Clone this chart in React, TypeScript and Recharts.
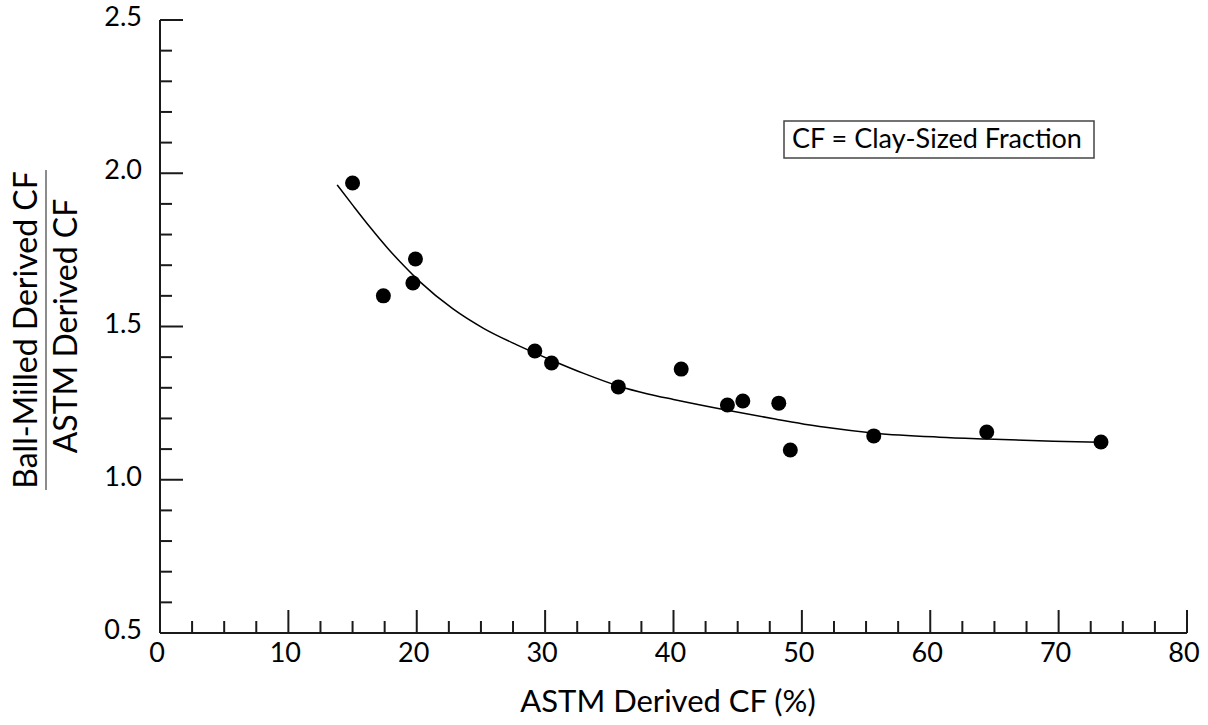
import React from 'react';
import { ComposedChart, Scatter, Line, XAxis, YAxis } from 'recharts';

// measured points: ASTM derived clay fraction (%) vs ball-milled / ASTM ratio
const astmCF = [15.0, 17.4, 19.7, 19.9, 29.2, 30.5, 35.7, 40.6, 44.2, 45.4, 48.2, 49.1, 55.6, 64.4, 73.3];
const cfRatio = [1.968, 1.6, 1.642, 1.72, 1.42, 1.381, 1.303, 1.361, 1.244, 1.257, 1.25, 1.097, 1.143, 1.156, 1.123];

// fitted curve
const fitX = [13.8, 15.1, 16.4, 17.7, 19.0, 20.3, 22.8, 25.2, 27.8, 30.5, 33.0, 35.7, 38.0, 40.0, 44.3, 47.8, 51.7, 55.7, 60.7, 64.4, 69.6, 73.2];
const fitY = [1.962, 1.891, 1.822, 1.757, 1.698, 1.644, 1.558, 1.494, 1.44, 1.39, 1.347, 1.306, 1.28, 1.262, 1.226, 1.199, 1.172, 1.152, 1.139, 1.133, 1.126, 1.122];

const xTicks = [0, 2.5, 5, 7.5, 10, 12.5, 15, 17.5, 20, 22.5, 25, 27.5, 30, 32.5, 35, 37.5, 40, 42.5, 45, 47.5, 50, 52.5, 55, 57.5, 60, 62.5, 65, 67.5, 70, 72.5, 75, 77.5, 80];
const yTicks = [0.5, 0.6, 0.7, 0.8, 0.9, 1.0, 1.1, 1.2, 1.3, 1.4, 1.5, 1.6, 1.7, 1.8, 1.9, 2.0, 2.1, 2.2, 2.3, 2.4, 2.5];

const points = astmCF.map((x, i) => ({ x, y: cfRatio[i] }));
const fit = fitX.map((x, i) => ({ x, y: fitY[i] }));

const FONT = 'Lato, "Open Sans", sans-serif';
const INK = '#1a1a1a';
const MAJOR = 23;
const MINOR = 12;

const isMajorX = (v: number) => Math.abs(v / 10 - Math.round(v / 10)) < 1e-6;
const isMajorY = (v: number) => Math.abs(v * 2 - Math.round(v * 2)) < 1e-6;

const BottomTick = (props: any) => {
  const { x, y, payload } = props;
  const major = isMajorX(payload.value);
  return (
    <g>
      <line x1={x} x2={x} y1={y} y2={y - (major ? MAJOR : MINOR)} stroke={INK} strokeWidth={2} />
      {major && (
        <text x={x - 3} y={y + 29} textAnchor="middle" fontFamily={FONT} fontSize={27} fill="#000">
          {payload.value}
        </text>
      )}
    </g>
  );
};

const TopTick = (props: any) => {
  const { x, y, payload } = props;
  const major = isMajorX(payload.value);
  return <line x1={x} x2={x} y1={y} y2={y + (major ? MAJOR : MINOR)} stroke={INK} strokeWidth={2} />;
};

const LeftTick = (props: any) => {
  const { x, y, payload } = props;
  const major = isMajorY(payload.value);
  return (
    <g>
      <line x1={x} x2={x + (major ? MAJOR : MINOR)} y1={y} y2={y} stroke={INK} strokeWidth={2} />
      {major && (
        <text x={x - 18} y={y + 6} textAnchor="end" fontFamily={FONT} fontSize={27} fill="#000">
          {payload.value.toFixed(1)}
        </text>
      )}
    </g>
  );
};

const RightTick = (props: any) => {
  const { x, y, payload } = props;
  const major = isMajorY(payload.value);
  return <line x1={x} x2={x - (major ? MAJOR : MINOR)} y1={y} y2={y} stroke={INK} strokeWidth={2} />;
};

const Dot = (props: any) => <circle cx={props.cx} cy={props.cy} r={7.5} fill="#000" />;

const axisLine = { stroke: INK, strokeWidth: 2 };

export default function App() {
  return (
    <div style={{ position: 'absolute', left: 0, top: 0, width: 1208, height: 725, background: '#fff' }}>
      <ComposedChart width={1208} height={725} margin={{ top: 20, right: 21, bottom: 0, left: 0 }}>
        <XAxis
          xAxisId="bottom"
          dataKey="x"
          type="number"
          domain={[0, 80]}
          ticks={xTicks}
          interval={0}
          height={92}
          tickSize={0}
          tickMargin={0}
          axisLine={axisLine}
          tickLine={false}
          tick={<BottomTick />}
          allowDataOverflow
        />
        <XAxis
          xAxisId="top"
          orientation="top"
          type="number"
          domain={[0, 80]}
          ticks={xTicks}
          interval={0}
          height={0}
          tickSize={0}
          tickMargin={0}
          axisLine={axisLine}
          tickLine={false}
          tick={<TopTick />}
          allowDataOverflow
        />
        <YAxis
          yAxisId="left"
          type="number"
          domain={[0.5, 2.5]}
          ticks={yTicks}
          interval={0}
          width={160}
          tickSize={0}
          tickMargin={0}
          axisLine={axisLine}
          tickLine={false}
          tick={<LeftTick />}
          allowDataOverflow
        />
        <YAxis
          yAxisId="right"
          orientation="right"
          type="number"
          domain={[0.5, 2.5]}
          ticks={yTicks}
          interval={0}
          width={0}
          tickSize={0}
          tickMargin={0}
          axisLine={axisLine}
          tickLine={false}
          tick={<RightTick />}
          allowDataOverflow
        />
        <Line
          xAxisId="bottom"
          yAxisId="left"
          data={fit}
          dataKey="y"
          type="monotone"
          stroke="#000"
          strokeWidth={1.5}
          dot={false}
          activeDot={false}
          isAnimationActive={false}
        />
        <Scatter
          xAxisId="bottom"
          yAxisId="left"
          data={points}
          dataKey="y"
          shape={<Dot />}
          isAnimationActive={false}
        />
      </ComposedChart>
      <svg width={1208} height={725} style={{ position: 'absolute', left: 0, top: 0, pointerEvents: 'none' }}>
        <text x={668} y={712} textAnchor="middle" fontFamily={FONT} fontSize={31} fill="#000">
          ASTM Derived CF (%)
        </text>
        <text x={37} y={330} transform="rotate(-90 37 330)" textAnchor="middle" fontFamily={FONT} fontSize={32} fill="#000">
          Ball-Milled Derived CF
        </text>
        <line x1={46} x2={46} y1={170} y2={490} stroke="#666" strokeWidth={1.5} />
        <text x={77} y={326} transform="rotate(-90 77 326)" textAnchor="middle" fontFamily={FONT} fontSize={32} fill="#000">
          ASTM Derived CF
        </text>
        <rect x={784} y={121} width={310} height={37} fill="#fff" stroke="#444" strokeWidth={1.5} />
        <text x={792} y={148} fontFamily={FONT} fontSize={27} fill="#000">
          CF = Clay-Sized Fraction
        </text>
      </svg>
    </div>
  );
}
